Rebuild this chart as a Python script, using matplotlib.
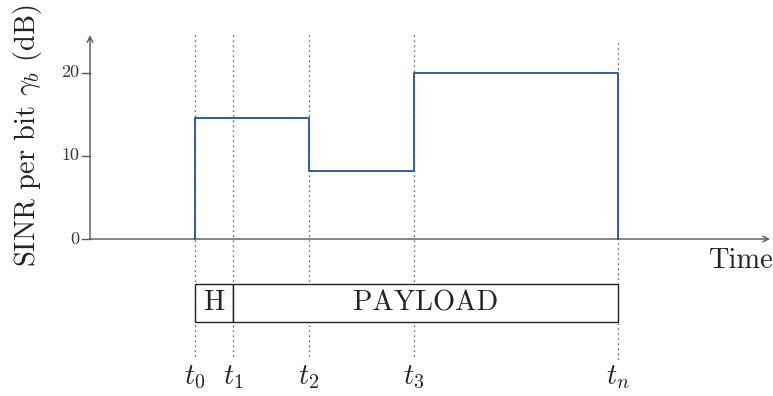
import matplotlib
matplotlib.use("Agg")
from matplotlib import pyplot as plt
from matplotlib.patches import Rectangle

plt.rcParams["font.family"] = ["cmr10", "DejaVu Serif"]
plt.rcParams["mathtext.fontset"] = "cm"

# time marks (arbitrary units) and their labels
times = [0.0, 1.0, 3.0, 5.78, 11.16]
time_labels = [r"$t_0$", r"$t_1$", r"$t_2$", r"$t_3$", r"$t_n$"]

# SINR levels (dB) held between consecutive change points t0, t2, t3, tn
step_times = [times[0], times[0], times[2], times[3], times[4]]
step_sinr = [0, 14.5, 8.2, 20, 0]

y_ticks = [0, 10, 20]
y_tick_labels = ["0", "10", "20"]

packet_parts = ["H", "PAYLOAD"]

fig = plt.figure(figsize=(7.73, 3.96), dpi=100)
ax = fig.add_axes([0, 0, 1, 1])
ax.set_xlim(-5.145, 15.25)
ax.set_ylim(-18.87, 28.73)
ax.axis("off")

axis_color = "#555555"
text_color = "#222222"
big = 20.5
x0 = -2.77

# axes with arrows
ax.annotate("", xy=(15.17, 0), xytext=(x0, 0),
            arrowprops=dict(arrowstyle="->", color=axis_color, lw=1.0, shrinkA=0, shrinkB=0))
ax.annotate("", xy=(x0, 24.5), xytext=(x0, 0),
            arrowprops=dict(arrowstyle="->", color=axis_color, lw=1.0, shrinkA=0, shrinkB=0))

for v, lab in zip(y_ticks, y_tick_labels):
    ax.plot([x0 - 0.21, x0], [v, v], color=axis_color, lw=1.0)
    ax.text(x0 - 0.28, v, lab, ha="right", va="center", fontsize=13, color="#333333")

ax.text(-4.41, 12.4, r"SINR per bit $\gamma_b$ (dB)", rotation=90,
        ha="center", va="center", fontsize=big, color=text_color)
ax.text(15.25, -2.6, "Time", ha="right", va="center", fontsize=big, color=text_color)

# dotted guide lines
for i, t in enumerate(times):
    top = 23.6 if i == len(times) - 1 else 24.5
    ax.plot([t, t], [top, -14.5], color="#333333", lw=0.9, ls=(0, (1, 3)))

# SINR trace
ax.step(step_times, step_sinr, where="post", color="#2b5fad", lw=1.4)

# packet layout
box_top, box_bot = -5.4, -9.98
ax.add_patch(Rectangle((times[0], box_bot), times[1] - times[0], box_top - box_bot,
                       fill=True, facecolor="white", edgecolor=text_color, lw=1.0, zorder=3))
ax.add_patch(Rectangle((times[1], box_bot), times[4] - times[1], box_top - box_bot,
                       fill=True, facecolor="white", edgecolor=text_color, lw=1.0, zorder=3))
ax.text((times[0] + times[1]) / 2, (box_top + box_bot) / 2, packet_parts[0],
        ha="center", va="center", fontsize=big, color=text_color, zorder=4)
ax.text((times[1] + times[4]) / 2, (box_top + box_bot) / 2, packet_parts[1],
        ha="center", va="center", fontsize=big, color=text_color, zorder=4)

for t, lab in zip(times, time_labels):
    ax.text(t, -16.6, lab, ha="center", va="center", fontsize=big, color=text_color)

fig.savefig("out.png", dpi=100)
